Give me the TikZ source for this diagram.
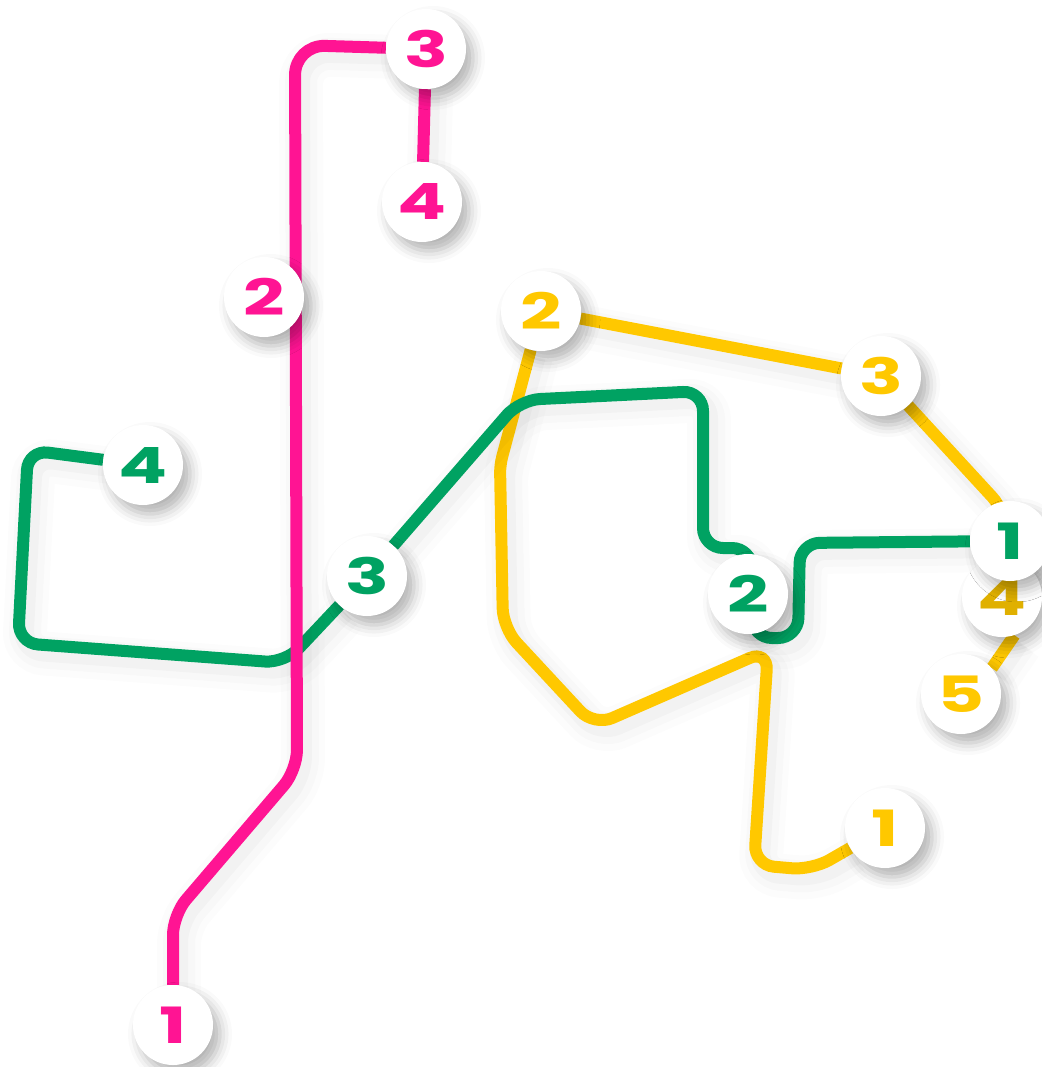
\documentclass[tikz,border=0pt]{standalone}
\usepackage{fontspec}
\newfontfamily\numfont{Poppins}[FakeStretch=1.45]
\usetikzlibrary{shadows.blur, backgrounds}
\definecolor{linepink}{HTML}{FF1493}
\definecolor{linegreen}{HTML}{00A262}
\definecolor{lineyellow}{HTML}{FFC800}

\begin{document}
\begin{tikzpicture}[x=1pt, y=-1pt, line join=round, line cap=round,
    route/.style={line width=12pt, rounded corners=20pt,
      preaction={draw=black, line width=44pt, draw opacity=0.012, transform canvas={xshift=6pt, yshift=-9pt}},
      preaction={draw=black, line width=32pt, draw opacity=0.016, transform canvas={xshift=6pt, yshift=-8pt}},
      preaction={draw=black, line width=20pt, draw opacity=0.022, transform canvas={xshift=5pt, yshift=-7pt}}},
    station/.style={circle, fill=white, minimum size=80pt, inner sep=0pt,
      font=\numfont\bfseries\fontsize{50}{50}\selectfont,
      blur shadow={shadow xshift=7pt, shadow yshift=-9pt, shadow blur radius=12pt, shadow opacity=30}},
    pinkstop/.style={station, text=linepink},
    greenstop/.style={station, text=linegreen},
    yellowstop/.style={station, text=lineyellow}]
  % 0. page frame
  \useasboundingbox (0,0) rectangle (1041,1067);

  % 1. yellow stations
  \node[yellowstop] (y1) at (885,828) {1};
  \node[yellowstop] (y2) at (541,311) {2};
  \node[yellowstop] (y3) at (881,376) {3};
  \node[yellowstop, text=lineyellow!88!black] (y4) at (1002,597) {4};
  \node[yellowstop] (y5) at (961,694) {5};

  % 2. green stations
  \node[greenstop] (g1) at (1010,541) {1};
  \node[greenstop] (g2) at (748,594) {2};
  \node[greenstop] (g3) at (367,576) {3};
  \node[greenstop] (g4) at (143,465) {4};

  % 3. pink stations
  \node[pinkstop] (p1) at (173,1025) {1};
  \node[pinkstop] (p2) at (264,297) {2};
  \node[pinkstop] (p3) at (426,49) {3};
  \node[pinkstop] (p4) at (422,202) {4};

  \begin{pgfonlayer}{background}
    % 4. yellow line
    \draw[route, lineyellow] (y1) -- (812,870) -- (754,865) -- (768,650) -- (594,726)
      -- (503,628) [rounded corners=8pt] -- (500,465) -- (y2);
    \draw[route, lineyellow] (y2) -- (y3);
    \draw[route, lineyellow] (y3) -- (1006,512) -- (y4);
    \draw[route, lineyellow] (y4.-72) -- (y5.40);

    % 5. green line
    \draw[route, linegreen] (g4) -- (28,450) -- (18,643) -- (285,663) -- (g3);
    \draw[route, linegreen] (g3) -- (520,400) -- (703,391) -- (703,548) -- (752,548)
      -- (752,638) -- (798,638) -- (800,543) -- (g1);

    % 6. pink line
    \draw[route, linepink] (p1) -- (173,915) -- (297,770)
      [rounded corners=30pt] -- (295,45) -- (p3);
    \draw[route, linepink] (p3) -- (p4);
  \end{pgfonlayer}
\end{tikzpicture}
\end{document}
